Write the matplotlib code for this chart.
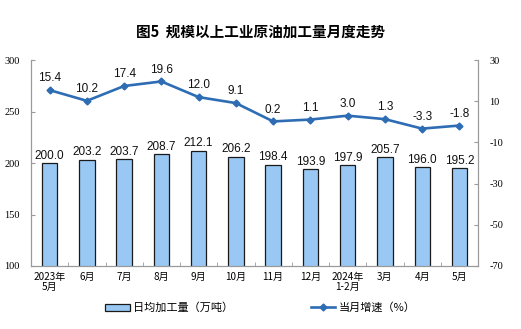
import numpy as np
import matplotlib.pyplot as plt

plt.rcParams['font.family'] = ['Noto Sans CJK SC', 'DejaVu Sans']
plt.rcParams['axes.unicode_minus'] = False

months = ['2023年\n5月', '6月', '7月', '8月', '9月', '10月', '11月', '12月',
          '2024年\n1-2月', '3月', '4月', '5月']
daily_output = [200.0, 203.2, 203.7, 208.7, 212.1, 206.2, 198.4, 193.9, 197.9, 205.7, 196.0, 195.2]
growth = [15.4, 10.2, 17.4, 19.6, 12.0, 9.1, 0.2, 1.1, 3.0, 1.3, -3.3, -1.8]

bar_color = '#99c8f5'
line_color = '#2e6db4'
spine_color = '#9a9a9a'

fig = plt.figure(figsize=(5.21, 3.29), dpi=100)
ax = fig.add_axes([0.0595, 0.1915, 0.858, 0.626])
ax2 = ax.twinx()

x = np.arange(len(months))
ax.bar(x, daily_output, width=0.41, color=bar_color, edgecolor='#1a1a1a', linewidth=0.9,
       label='日均加工量（万吨）', zorder=2)
for xi, v in zip(x, daily_output):
    ax.text(xi, v + 1.2, f'{v:.1f}', ha='center', va='bottom', fontsize=8.5,
            family='Liberation Sans', color='#111111')

ax2.plot(x, growth, color=line_color, linewidth=1.9, marker='D', markersize=3.5,
         label='当月增速（%）', zorder=3)
for xi, v in zip(x, growth):
    ax2.text(xi, v + 2.8, f'{v:.1f}', ha='center', va='bottom', fontsize=8.5,
             family='Liberation Sans', color='#111111')

ax.set_xlim(-0.5, len(months) - 0.5)
ax.set_ylim(100, 300)
ax.set_yticks([100, 150, 200, 250, 300])
ax2.set_ylim(-70, 30)
ax2.set_yticks([-70, -50, -30, -10, 10, 30])

ax.set_xticks(x)
ax.set_xticklabels(months, fontsize=7.2, linespacing=1.1)
ax.set_xticks(np.arange(-0.5, len(months), 1), minor=True)
ax.tick_params(axis='x', which='major', length=0, pad=4)
ax.tick_params(axis='x', which='minor', direction='in', length=3, color=spine_color)
ax.tick_params(axis='y', direction='in', length=3, color=spine_color, labelsize=7.5, pad=8)
ax2.tick_params(axis='y', direction='in', length=3, color=spine_color, labelsize=7.5, pad=8)
for lab in ax.get_yticklabels() + ax2.get_yticklabels():
    lab.set_family('Liberation Serif')

for a in (ax, ax2):
    a.spines['top'].set_visible(False)
    for s in ('left', 'right', 'bottom'):
        a.spines[s].set_color(spine_color)
        a.spines[s].set_linewidth(0.8)

fig.text(0.5, 0.903, '图5  规模以上工业原油加工量月度走势', ha='center', va='center',
         fontsize=10.5, fontweight='bold')

h1, l1 = ax.get_legend_handles_labels()
h2, l2 = ax2.get_legend_handles_labels()
fig.legend(h1 + h2, l1 + l2, loc='center', bbox_to_anchor=(0.5, 0.065), ncol=2,
           frameon=False, fontsize=8, columnspacing=7, handlelength=2.2,
           handleheight=0.6, handletextpad=0.3)

fig.savefig('out.png', dpi=100)
